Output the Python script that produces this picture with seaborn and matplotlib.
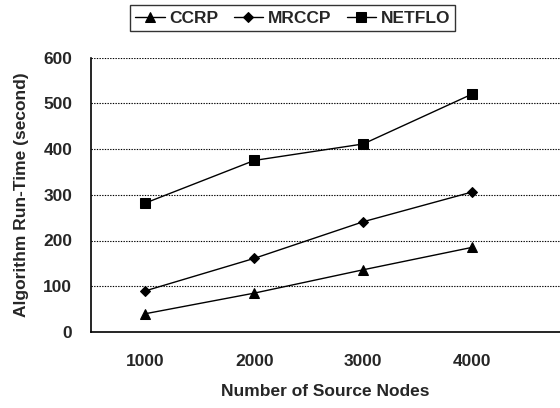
import numpy as np
import pandas as pd
import matplotlib
matplotlib.use("Agg")
import matplotlib.pyplot as plt
from matplotlib.font_manager import FontProperties
import seaborn as sns

# Run-time (seconds) of each algorithm versus number of source nodes
nodes = [1000, 2000, 3000, 4000]
ccrp = [40, 85, 136, 185]
mrccp = [90, 161, 241, 306]
netflo = [282, 375, 411, 520]
series_names = ["CCRP", "MRCCP", "NETFLO"]
y_ticks = [0, 100, 200, 300, 400, 500, 600]

sns.set_style("white")
plt.rcParams["font.family"] = ["Liberation Sans", "DejaVu Sans"]
plt.rcParams["font.weight"] = "bold"

FS = 12.5

pos = np.arange(len(nodes))
df = pd.DataFrame({
    "pos": np.tile(pos, 3),
    "time": ccrp + mrccp + netflo,
    "alg": np.repeat(series_names, len(nodes)),
})

fig = plt.figure(figsize=(5.6, 4.08), dpi=100)
ax = fig.add_axes([91 / 560, 1 - 332 / 408, 1 - 91 / 560, (332 - 57.5) / 408])

markers = {"CCRP": "^", "MRCCP": "D", "NETFLO": "s"}
sizes = {"CCRP": 7, "MRCCP": 5.5, "NETFLO": 6.5}
for name in series_names:
    sub = df[df["alg"] == name]
    sns.lineplot(data=sub, x="pos", y="time", ax=ax, color="black",
                 marker=markers[name], markersize=sizes[name],
                 markeredgecolor="black", markerfacecolor="black",
                 linewidth=1.0, label=name, legend=False)

ax.set_ylim(0, 600)
ax.set_xlim(-0.5, (560 - 145) / 109)
ax.set_yticks(y_ticks)
ax.set_yticklabels([str(v) for v in y_ticks], fontsize=FS, fontweight="bold")
ax.set_xticks(pos)
ax.set_xticklabels([str(n) for n in nodes], fontsize=FS, fontweight="bold")
ax.tick_params(axis="y", length=0, pad=13.5)
ax.tick_params(axis="x", length=0, pad=15.5)
# category boundary ticks on the bottom axis
ax.set_xticks(pos[1:] - 0.5, minor=True)
ax.tick_params(axis="x", which="minor", direction="in", length=6, width=1, color="black")

for v in y_ticks[1:]:
    ax.axhline(v, color="black", linestyle=(0, (1.2, 1.2)), linewidth=0.8, zorder=0)

for side in ["top", "right"]:
    ax.spines[side].set_visible(False)
ax.spines["left"].set_linewidth(1.2)
ax.spines["bottom"].set_linewidth(1.2)
ax.spines["left"].set_color("black")
ax.spines["bottom"].set_color("black")

ax.set_xlabel("Number of Source Nodes", fontsize=FS, fontweight="bold", labelpad=11)
ax.set_ylabel("Algorithm Run-Time (second)", fontsize=FS, fontweight="bold", labelpad=10)

legend_font = FontProperties(family="Liberation Sans", weight="bold", size=FS)
handles, labels = ax.get_legend_handles_labels()
leg = fig.legend(handles, labels, loc="center", bbox_to_anchor=(292.5 / 560, 1 - 18 / 408),
                 ncol=3, frameon=True, fancybox=False, handlelength=1.7, handletextpad=0.25,
                 columnspacing=0.9, borderpad=0.3, prop=legend_font)
leg.get_frame().set_edgecolor("black")
leg.get_frame().set_linewidth(1.0)

fig.savefig("out.png", dpi=100)
